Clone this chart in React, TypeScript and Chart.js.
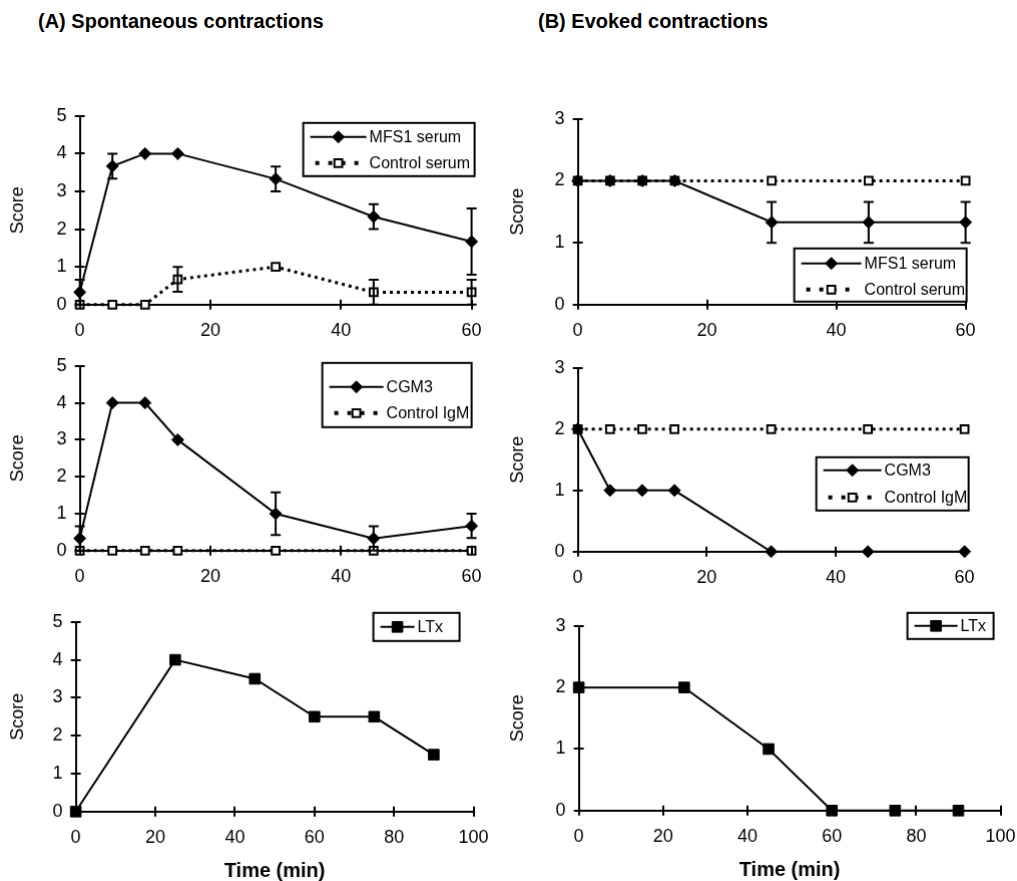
import React, { useEffect, useRef } from "react";
import { Chart, registerables } from "chart.js";
Chart.register(...registerables);

const FONT = "'Liberation Sans', Arial, Helvetica, sans-serif";

// ---------- data ----------
const timeShort = [0, 5, 10, 15, 30, 45, 60];
const timeLTx = [0, 25, 45, 60, 75, 90];

const spontMFS1 = [0.33, 3.67, 4, 4, 3.33, 2.33, 1.67];
const spontMFS1Err = [0.33, 0.33, 0, 0, 0.33, 0.33, 0.88];
const spontCtrlSerum = [0, 0, 0, 0.67, 1, 0.33, 0.33];
const spontCtrlSerumErr = [0, 0, 0, 0.33, 0, 0.33, 0.33];

const evokedMFS1 = [2, 2, 2, 2, 1.33, 1.33, 1.33];
const evokedMFS1Err = [0, 0, 0, 0, 0.33, 0.33, 0.33];
const evokedCtrlSerum = [2, 2, 2, 2, 2, 2, 2];

const spontCGM3 = [0.33, 4, 4, 3, 1, 0.33, 0.67];
const spontCGM3Err = [0.33, 0, 0, 0, 0.58, 0.33, 0.33];
const spontCtrlIgM = [0, 0, 0, 0, 0, 0, 0];

const evokedCGM3 = [2, 1, 1, 1, 0, 0, 0];
const evokedCtrlIgM = [2, 2, 2, 2, 2, 2, 2];

const spontLTx = [0, 4, 3.5, 2.5, 2.5, 1.5];
const evokedLTx = [2, 2, 1, 0, 0, 0];

const xTicksShort = [0, 20, 40, 60];
const xTicksLong = [0, 20, 40, 60, 80, 100];
const yTicksA = [0, 1, 2, 3, 4, 5];
const yTicksB = [0, 1, 2, 3];

const seriesLabels = {
  mfs1: "MFS1 serum",
  ctrlSerum: "Control serum",
  cgm3: "CGM3",
  ctrlIgM: "Control IgM",
  ltx: "LTx",
};
const columnTitles = ["(A) Spontaneous contractions", "(B) Evoked contractions"];
const xAxisTitle = "Time (min)";
const yAxisTitle = "Score";

// ---------- layout / style ----------
type Series = { label: string; x: number[]; y: number[]; err?: number[]; kind: string };
type PanelCfg = {
  key: string;
  area: { left: number; right: number; top: number; bottom: number };
  xTicks: number[];
  yTicks: number[];
  xTitle: boolean;
  yTitlePad: number;
  series: Series[];
  legend: { box: number[]; rows: number[]; textX: number };
};

const panels: PanelCfg[] = [
  {
    key: "A1",
    area: { left: 80, right: 471, top: 116, bottom: 304 },
    xTicks: xTicksShort, yTicks: yTicksA, xTitle: false, yTitlePad: 15,
    series: [
      { label: seriesLabels.mfs1, x: timeShort, y: spontMFS1, err: spontMFS1Err, kind: "diamond" },
      { label: seriesLabels.ctrlSerum, x: timeShort, y: spontCtrlSerum, err: spontCtrlSerumErr, kind: "hollow" },
    ],
    legend: { box: [303, 123, 474, 176], rows: [137, 163], textX: 369 },
  },
  {
    key: "B1",
    area: { left: 578, right: 965, top: 119, bottom: 304 },
    xTicks: xTicksShort, yTicks: yTicksB, xTitle: false, yTitlePad: 13,
    series: [
      { label: seriesLabels.mfs1, x: timeShort, y: evokedMFS1, err: evokedMFS1Err, kind: "diamond" },
      { label: seriesLabels.ctrlSerum, x: timeShort, y: evokedCtrlSerum, kind: "hollow" },
    ],
    legend: { box: [794, 248, 966, 301], rows: [263, 289], textX: 864 },
  },
  {
    key: "A2",
    area: { left: 80, right: 471, top: 366, bottom: 550 },
    xTicks: xTicksShort, yTicks: yTicksA, xTitle: false, yTitlePad: 15,
    series: [
      { label: seriesLabels.cgm3, x: timeShort, y: spontCGM3, err: spontCGM3Err, kind: "diamond" },
      { label: seriesLabels.ctrlIgM, x: timeShort, y: spontCtrlIgM, kind: "hollow" },
    ],
    legend: { box: [322, 363, 471, 427], rows: [387, 413], textX: 386 },
  },
  {
    key: "B2",
    area: { left: 578, right: 964, top: 368, bottom: 551 },
    xTicks: xTicksShort, yTicks: yTicksB, xTitle: false, yTitlePad: 13,
    series: [
      { label: seriesLabels.cgm3, x: timeShort, y: evokedCGM3, kind: "diamond" },
      { label: seriesLabels.ctrlIgM, x: timeShort, y: evokedCtrlIgM, kind: "hollow" },
    ],
    legend: { box: [816, 457, 968, 510], rows: [470, 497], textX: 884 },
  },
  {
    key: "A3",
    area: { left: 76, right: 473, top: 622, bottom: 811 },
    xTicks: xTicksLong, yTicks: yTicksA, xTitle: true, yTitlePad: 11,
    series: [{ label: seriesLabels.ltx, x: timeLTx, y: spontLTx, kind: "square" }],
    legend: { box: [373, 613, 459, 641], rows: [627], textX: 417 },
  },
  {
    key: "B3",
    area: { left: 579, right: 1000, top: 626, bottom: 810 },
    xTicks: xTicksLong, yTicks: yTicksB, xTitle: true, yTitlePad: 14,
    series: [{ label: seriesLabels.ltx, x: timeLTx, y: evokedLTx, kind: "square" }],
    legend: { box: [907, 613, 993, 639], rows: [626], textX: 960 },
  },
];

function styleFor(kind: string) {
  if (kind === "diamond")
    return { borderColor: "#000", borderWidth: 2, borderDash: [] as number[], pointStyle: "rectRot", pointRadius: 6, pointBackgroundColor: "#000", pointBorderColor: "#000", pointBorderWidth: 1 };
  if (kind === "hollow")
    return { borderColor: "#000", borderWidth: 3, borderDash: [3, 4], pointStyle: "rect", pointRadius: 5.5, pointBackgroundColor: "#fff", pointBorderColor: "#000", pointBorderWidth: 2 };
  return { borderColor: "#000", borderWidth: 2, borderDash: [] as number[], pointStyle: "rect", pointRadius: 7.5, pointBackgroundColor: "#000", pointBorderColor: "#000", pointBorderWidth: 1 };
}

function drawMarker(ctx: CanvasRenderingContext2D, kind: string, x: number, y: number) {
  const st = styleFor(kind);
  const r = st.pointRadius;
  ctx.save();
  ctx.setLineDash([]);
  ctx.beginPath();
  if (kind === "diamond") {
    ctx.moveTo(x, y - r); ctx.lineTo(x + r, y); ctx.lineTo(x, y + r); ctx.lineTo(x - r, y); ctx.closePath();
  } else {
    const s = r / Math.SQRT2;
    ctx.rect(x - s, y - s, 2 * s, 2 * s);
  }
  ctx.fillStyle = st.pointBackgroundColor;
  ctx.fill();
  ctx.lineWidth = st.pointBorderWidth;
  ctx.strokeStyle = st.pointBorderColor;
  ctx.stroke();
  ctx.restore();
}

function Panel({ cfg }: { cfg: PanelCfg }) {
  const canvasRef = useRef<HTMLCanvasElement | null>(null);

  useEffect(() => {
    const canvas = canvasRef.current!;
    const origin = { x: 0, y: 0 };
    const initW = cfg.area.right - cfg.area.left + 150;
    const initH = cfg.area.bottom - cfg.area.top + 100;
    canvas.width = initW;
    canvas.height = initH;
    canvas.style.width = initW + "px";
    canvas.style.height = initH + "px";

    const datasets = cfg.series.map((s) => ({
      label: s.label,
      data: s.x.map((xv, i) => ({ x: xv, y: s.y[i] })),
      errors: s.err,
      kind: s.kind,
      clip: false as any,
      tension: 0,
      fill: false,
      ...styleFor(s.kind),
    }));

    const errorBars = {
      id: "errorBars" + cfg.key,
      afterDatasetsDraw(chart: any) {
        const ctx = chart.ctx;
        const xs = chart.scales.x, ys = chart.scales.y;
        ctx.save();
        ctx.strokeStyle = "#000";
        ctx.lineWidth = 2;
        ctx.setLineDash([]);
        chart.data.datasets.forEach((ds: any) => {
          if (!ds.errors) return;
          ds.data.forEach((p: any, i: number) => {
            const e = ds.errors[i];
            if (!e) return;
            const px = xs.getPixelForValue(p.x);
            const yt = ys.getPixelForValue(p.y + e);
            const yb = ys.getPixelForValue(p.y - e);
            ctx.beginPath();
            ctx.moveTo(px, yt); ctx.lineTo(px, yb);
            ctx.moveTo(px - 5, yt); ctx.lineTo(px + 5, yt);
            ctx.moveTo(px - 5, yb); ctx.lineTo(px + 5, yb);
            ctx.stroke();
          });
        });
        ctx.restore();
      },
    };

    const crossTicks = {
      id: "crossTicks" + cfg.key,
      afterDraw(chart: any) {
        const ctx = chart.ctx;
        const xs = chart.scales.x, ys = chart.scales.y;
        const ca = chart.chartArea;
        ctx.save();
        ctx.strokeStyle = "#000";
        ctx.lineWidth = 2;
        ctx.setLineDash([]);
        ctx.beginPath();
        xs.ticks.forEach((t: any) => {
          const px = Math.round(xs.getPixelForValue(t.value));
          ctx.moveTo(px, ca.bottom - 5); ctx.lineTo(px, ca.bottom + 5);
        });
        ys.ticks.forEach((t: any) => {
          const py = Math.round(ys.getPixelForValue(t.value));
          ctx.moveTo(ca.left - 5, py); ctx.lineTo(ca.left + 5, py);
        });
        ctx.stroke();
        ctx.restore();
      },
    };

    const boxLegend = {
      id: "boxLegend" + cfg.key,
      afterDraw(chart: any) {
        const ctx = chart.ctx;
        const lg = cfg.legend;
        ctx.save();
        ctx.translate(-origin.x, -origin.y);
        const [x1, y1, x2, y2] = lg.box;
        ctx.fillStyle = "#fff";
        ctx.fillRect(x1, y1, x2 - x1, y2 - y1);
        ctx.strokeStyle = "#000";
        ctx.lineWidth = 2;
        ctx.setLineDash([]);
        ctx.strokeRect(x1, y1, x2 - x1, y2 - y1);
        cfg.series.forEach((s, i) => {
          const ry = lg.rows[i];
          const st = styleFor(s.kind);
          const dotted = s.kind === "hollow";
          const sx1 = x1 + (dotted ? 12 : 7);
          const sx2 = lg.textX - (dotted ? 8 : 3);
          ctx.beginPath();
          ctx.strokeStyle = "#000";
          ctx.lineWidth = dotted ? 4 : st.borderWidth;
          ctx.setLineDash(dotted ? [4, 9] : []);
          ctx.moveTo(sx1, ry); ctx.lineTo(sx2, ry);
          ctx.stroke();
          drawMarker(ctx, s.kind, (x1 + 7 + lg.textX - 3) / 2, ry);
          ctx.setLineDash([]);
          ctx.fillStyle = "#000";
          ctx.font = `16px ${FONT}`;
          ctx.textAlign = "left";
          ctx.textBaseline = "middle";
          ctx.fillText(s.label, lg.textX, ry + 1);
        });
        ctx.restore();
      },
    };

    const tickFont = { family: FONT, size: 18 };
    const xt = cfg.xTicks, yt = cfg.yTicks;
    const chart = new Chart(canvas, {
      type: "line",
      data: { datasets: datasets as any },
      options: {
        animation: false,
        responsive: false,
        maintainAspectRatio: false,
        layout: { padding: { top: 12, right: 24, bottom: 4, left: 4 } },
        plugins: { legend: { display: false }, tooltip: { enabled: false }, title: { display: false } },
        scales: {
          x: {
            type: "linear",
            min: xt[0],
            max: xt[xt.length - 1],
            ticks: { stepSize: xt[1] - xt[0], font: tickFont, color: "#000", padding: 15, maxRotation: 0, autoSkip: false },
            grid: { display: true, drawOnChartArea: false, drawTicks: false },
            border: { display: true, color: "#000", width: 2 },
            title: {
              display: cfg.xTitle,
              text: xAxisTitle,
              color: "#000",
              font: { family: FONT, size: 20, weight: "bold" },
              padding: { top: -4, bottom: 0 },
            },
          },
          y: {
            type: "linear",
            min: yt[0],
            max: yt[yt.length - 1],
            ticks: { stepSize: yt[1] - yt[0], font: tickFont, color: "#000", padding: 13 },
            grid: { display: true, drawOnChartArea: false, drawTicks: false },
            border: { display: true, color: "#000", width: 2 },
            title: {
              display: true,
              text: yAxisTitle,
              color: "#000",
              font: { family: FONT, size: 18 },
              padding: { top: 0, bottom: cfg.yTitlePad },
            },
          },
        },
      } as any,
      plugins: [errorBars, crossTicks, boxLegend],
    });

    const ca = chart.chartArea;
    const mL = ca.left, mT = ca.top;
    const mR = chart.width - ca.right, mB = chart.height - ca.bottom;
    const w = cfg.area.right - cfg.area.left + mL + mR;
    const h = cfg.area.bottom - cfg.area.top + mT + mB;
    const left = cfg.area.left - mL, top = cfg.area.top - mT;
    canvas.style.left = left + "px";
    canvas.style.top = top + "px";
    origin.x = left;
    origin.y = top;
    chart.resize(w, h);

    return () => chart.destroy();
  }, [cfg]);

  return <canvas ref={canvasRef} style={{ position: "absolute", left: 0, top: 0 }} />;
}

export default function App() {
  const titleStyle: React.CSSProperties = {
    position: "absolute",
    top: 9,
    fontFamily: FONT,
    fontWeight: "bold",
    fontSize: 20,
    lineHeight: "24px",
    color: "#000",
    whiteSpace: "nowrap",
  };
  return (
    <div style={{ position: "absolute", left: 0, top: 0, width: 1017, height: 881, background: "#fff", overflow: "hidden" }}>
      <div style={{ ...titleStyle, left: 38 }}>{columnTitles[0]}</div>
      <div style={{ ...titleStyle, left: 538 }}>{columnTitles[1]}</div>
      {panels.map((p) => (
        <Panel key={p.key} cfg={p} />
      ))}
    </div>
  );
}
